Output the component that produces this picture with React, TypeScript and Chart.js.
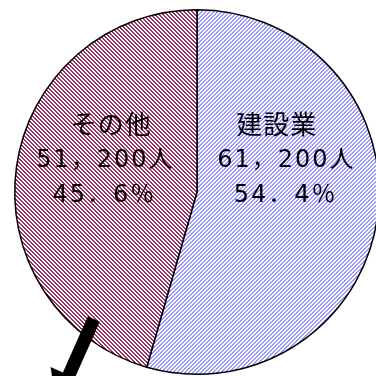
import { useEffect, useRef } from "react";
import { Chart, registerables } from "chart.js";

Chart.register(...registerables);

const CATEGORIES = ["建設業", "その他"];
const VALUES = [61200, 51200];
const COUNT_LABELS = ["61，200人", "51，200人"];
const PERCENT_LABELS = ["54．4％", "45．6％"];

function makePattern(color: string, forward: boolean): CanvasPattern | string {
  const c = document.createElement("canvas");
  c.width = 4;
  c.height = 4;
  const ctx = c.getContext("2d");
  if (!ctx) return color;
  ctx.fillStyle = "#ffffff";
  ctx.fillRect(0, 0, 4, 4);
  ctx.fillStyle = color;
  for (let y = 0; y < 4; y++) {
    for (let x = 0; x < 4; x++) {
      const k = forward ? (x + y) % 4 : (x - y + 8) % 4;
      if (k < 2) ctx.fillRect(x, y, 1, 1);
    }
  }
  return ctx.createPattern(c, "repeat") || color;
}

export default function App() {
  const ref = useRef<HTMLCanvasElement>(null);

  useEffect(() => {
    const canvas = ref.current;
    if (!canvas) return;

    const blue = makePattern("#9999ff", true);
    const red = makePattern("#993366", false);

    const overlay = {
      id: "overlay",
      afterDatasetsDraw(chart: any) {
        const meta = chart.getDatasetMeta(0);
        const arc = meta.data[0];
        if (!arc) return;
        const { x: cx, y: cy, outerRadius: r } = arc.getProps(["x", "y", "outerRadius"], true);
        const ctx = chart.ctx as CanvasRenderingContext2D;
        ctx.save();
        ctx.fillStyle = "#000";
        ctx.textAlign = "center";
        ctx.textBaseline = "middle";
        const pos = [
          { name: 0.437, count: 0.49, pct: 0.486 },
          { name: -0.47, count: -0.503, pct: -0.508 },
        ];
        const rows = [-0.372, -0.169, 0.022];
        const anyCtx = ctx as any;
        for (let i = 0; i < CATEGORIES.length; i++) {
          anyCtx.letterSpacing = "1px";
          ctx.font = '26px "Noto Sans CJK JP", sans-serif';
          ctx.fillText(CATEGORIES[i], cx + pos[i].name * r, cy + rows[0] * r);
          anyCtx.letterSpacing = "2px";
          ctx.font = '24px "DejaVu Sans", "Noto Sans CJK JP", sans-serif';
          ctx.fillText(COUNT_LABELS[i], cx + pos[i].count * r, cy + rows[1] * r);
          ctx.fillText(PERCENT_LABELS[i], cx + pos[i].pct * r, cy + rows[2] * r);
        }
        anyCtx.letterSpacing = "0px";
        // arrow annotation
        const tx = cx - 0.566 * r, ty = cy + 0.697 * r;
        const bx = cx - 0.703 * r, by = cy + 1.005 * r;
        let dx = bx - tx, dy = by - ty;
        const len = Math.hypot(dx, dy);
        dx /= len; dy /= len;
        const nx = -dy, ny = dx;
        const hw = 0.036 * r;
        const headHalf = 0.11 * r;
        const headLen = 0.17 * r;
        ctx.fillStyle = "#000";
        ctx.beginPath();
        ctx.moveTo(tx + nx * hw, ty + ny * hw);
        ctx.lineTo(bx + nx * hw, by + ny * hw);
        ctx.lineTo(bx + nx * headHalf, by + ny * headHalf);
        ctx.lineTo(bx + dx * headLen, by + dy * headLen);
        ctx.lineTo(bx - nx * headHalf, by - ny * headHalf);
        ctx.lineTo(bx - nx * hw, by - ny * hw);
        ctx.lineTo(tx - nx * hw, ty - ny * hw);
        ctx.closePath();
        ctx.fill();
        ctx.restore();
      },
    };

    const chart = new Chart(canvas, {
      type: "pie",
      data: {
        labels: CATEGORIES,
        datasets: [
          {
            data: VALUES,
            backgroundColor: [blue, red] as any,
            borderColor: "#000000",
            borderWidth: 1.5,
          },
        ],
      },
      options: {
        responsive: false,
        animation: false,
        layout: { padding: { left: 14, top: 9, right: 12, bottom: 1 } },
        plugins: {
          legend: { display: false },
          tooltip: { enabled: false },
        },
      },
      plugins: [overlay],
    });

    return () => chart.destroy();
  }, []);

  return (
    <div
      style={{
        position: "fixed",
        left: 0,
        top: 0,
        width: 376,
        height: 376,
        overflow: "hidden",
        background: "#ffffff",
      }}
    >
      <canvas ref={ref} width={392} height={376} style={{ display: "block", width: 392, height: 376 }} />
    </div>
  );
}
